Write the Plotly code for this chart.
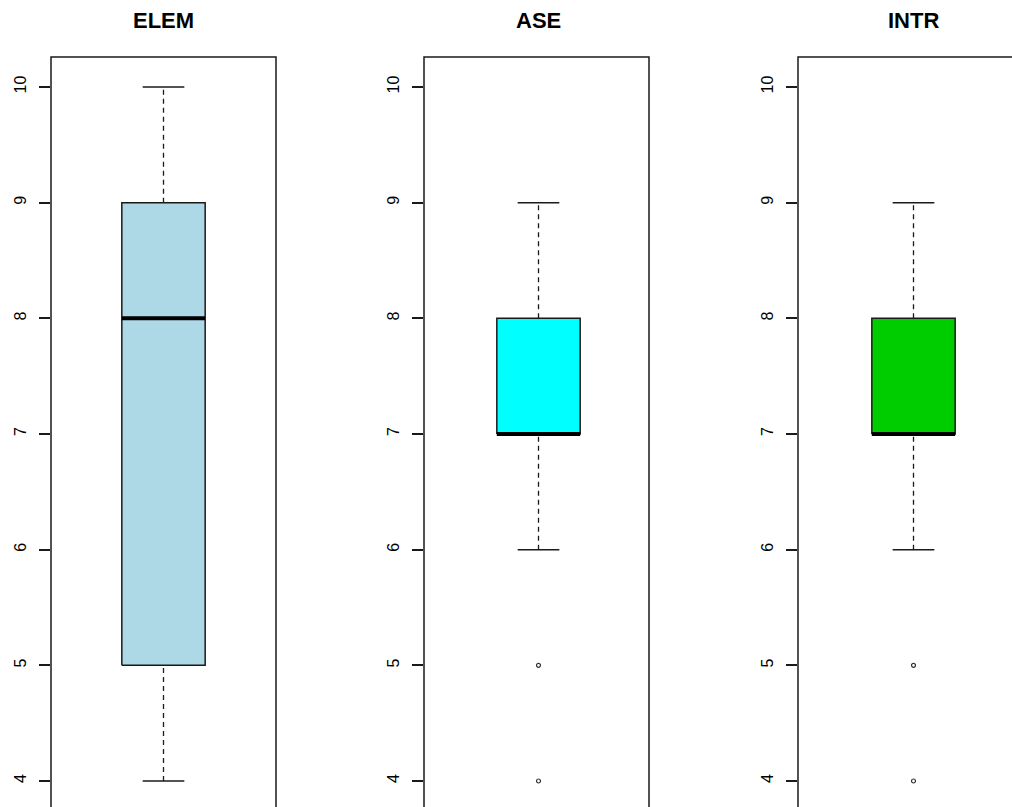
import plotly.graph_objects as go

# ---- data ----
groups = ["ELEM", "ASE", "INTR"]
lower_whisker = [4, 6, 6]
q1 = [5, 7, 7]
median = [8, 7, 7]
q3 = [9, 8, 8]
upper_whisker = [10, 9, 9]
outliers = [[], [5, 4], [5, 4]]
fill_colors = ["#ADD8E6", "#00FFFF", "#00CD00"]
y_ticks = [4, 5, 6, 7, 8, 9, 10]

W, H = 1012, 807
panel_left_px = [51, 424, 798]
box_shift_px = [0, 2, 3]
panel_width_px = 225
top_px = 57
units_per_px = 1.08 / panel_width_px
y_range = [3.7752, 10.2594]

box_half = 0.2
cap_half = 0.1
ink = "#1a1a1a"

fig = go.Figure()
layout_axes = {}
shapes = []
annotations = []

for i, g in enumerate(groups):
    n = "" if i == 0 else str(i + 1)
    xa, ya = f"x{n}", f"y{n}"
    left = panel_left_px[i]
    right = min(left + panel_width_px, W)
    xr0 = 0.46 - box_shift_px[i] * units_per_px
    xr1 = xr0 + (right - left) * units_per_px

    for (a, b) in [(lower_whisker[i], q1[i]), (q3[i], upper_whisker[i])]:
        fig.add_trace(go.Scatter(x=[1, 1], y=[a, b], mode="lines", xaxis=xa, yaxis=ya,
                                 line=dict(color=ink, width=1.3, dash="5px,4px"),
                                 showlegend=False, hoverinfo="skip"))
    for v in [lower_whisker[i], upper_whisker[i]]:
        fig.add_trace(go.Scatter(x=[1 - cap_half, 1 + cap_half], y=[v, v], mode="lines",
                                 xaxis=xa, yaxis=ya, line=dict(color=ink, width=1.5),
                                 showlegend=False, hoverinfo="skip"))
    fig.add_trace(go.Scatter(
        x=[1 - box_half, 1 + box_half, 1 + box_half, 1 - box_half, 1 - box_half],
        y=[q1[i], q1[i], q3[i], q3[i], q1[i]],
        mode="lines", fill="toself", fillcolor=fill_colors[i],
        line=dict(color=ink, width=1.5), xaxis=xa, yaxis=ya,
        showlegend=False, hoverinfo="skip"))
    fig.add_trace(go.Scatter(x=[1 - box_half, 1 + box_half], y=[median[i], median[i]],
                             mode="lines", xaxis=xa, yaxis=ya,
                             line=dict(color="#000000", width=4),
                             showlegend=False, hoverinfo="skip"))
    if outliers[i]:
        fig.add_trace(go.Scatter(x=[1] * len(outliers[i]), y=outliers[i], mode="markers",
                                 xaxis=xa, yaxis=ya,
                                 marker=dict(symbol="circle-open", size=4,
                                             color="#333333", line=dict(width=1.2)),
                                 showlegend=False, hoverinfo="skip"))

    dom_x = [left / W, right / W]
    dom_y = [0, 1 - top_px / H]
    layout_axes[f"xaxis{n}"] = dict(domain=dom_x, range=[xr0, xr1], showticklabels=False,
                                   ticks="", showgrid=False, zeroline=False,
                                   showline=False, anchor=ya, fixedrange=True)
    layout_axes[f"yaxis{n}"] = dict(domain=dom_y, range=y_range, tickvals=y_ticks,
                                   ticktext=[str(t) for t in y_ticks],
                                   ticks="outside", ticklen=11, tickwidth=1.5,
                                   tickcolor=ink, tickangle=-90,
                                   ticklabelstandoff=7,
                                   tickfont=dict(family="Liberation Sans, Arial",
                                                 size=16, color="#000000"),
                                   showgrid=False, zeroline=False, showline=False,
                                   anchor=xa, automargin=False, fixedrange=True)
    shapes.append(dict(type="rect", xref=f"{xa} domain", yref=f"{ya} domain",
                       x0=0, x1=(1.0 if right - left == panel_width_px else 1.2),
                       y0=-0.05, y1=1, line=dict(color=ink, width=1.5),
                       fillcolor="rgba(0,0,0,0)", layer="above"))
    annotations.append(dict(text=f"<b>{g}</b>", xref="paper", yref="paper",
                            x=(left + box_shift_px[i] + panel_width_px / 2) / W,
                            y=1 - 20 / H,
                            xanchor="center", yanchor="middle", showarrow=False,
                            font=dict(family="Liberation Sans, Arial", size=22,
                                      color="#000000")))

fig.update_layout(width=W, height=H, margin=dict(l=0, r=0, t=0, b=0),
                  plot_bgcolor="white", paper_bgcolor="white",
                  shapes=shapes, annotations=annotations, showlegend=False,
                  **layout_axes)

fig.write_html("out.html", config={"displayModeBar": False},
               post_script="document.body.style.margin='0';"
                           "document.body.style.overflow='hidden';"
                           "document.documentElement.style.overflow='hidden';")
